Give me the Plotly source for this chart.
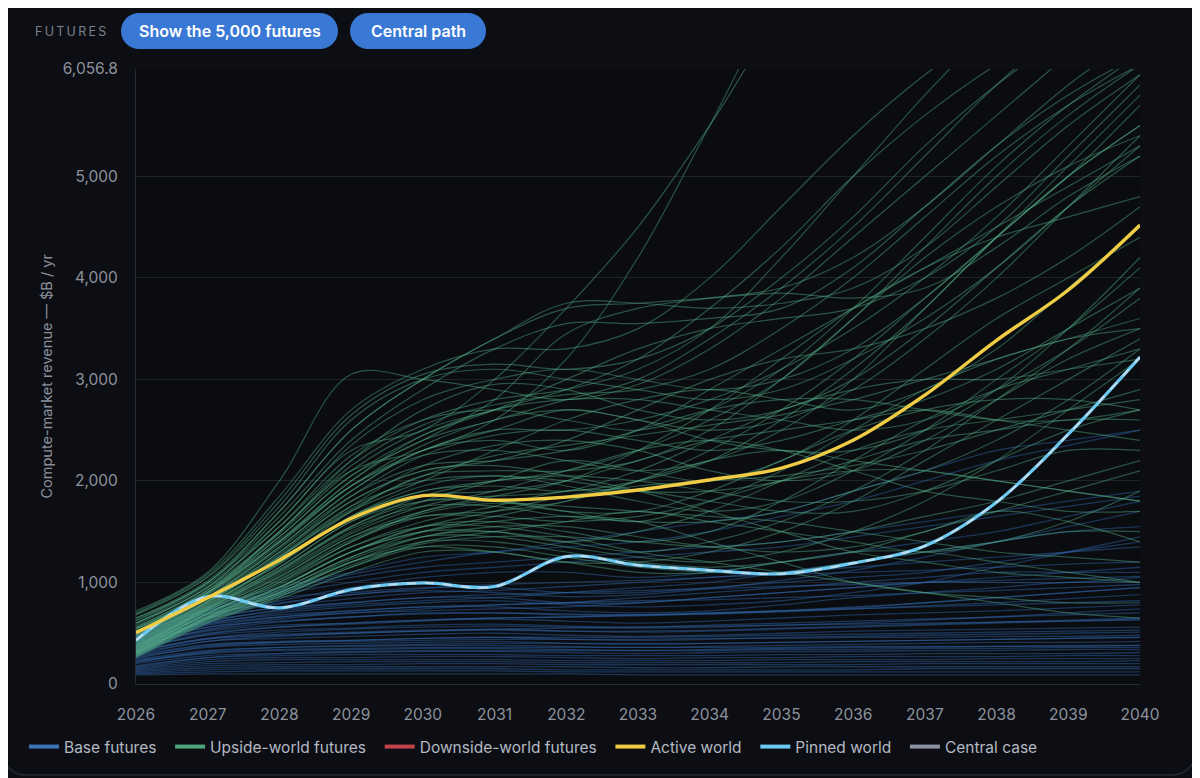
import plotly.graph_objects as go

# yearly points of every path, $B / yr
years = list(range(2026, 2041))

active_world = [505, 850, 1220, 1630, 1855, 1810, 1840, 1910, 2010, 2125, 2400, 2845, 3385, 3880, 4520]
pinned_world = [430, 860, 750, 930, 995, 960, 1255, 1170, 1120, 1085, 1190, 1360, 1790, 2460, 3220]
central_case = [430, 860, 750, 930, 995, 960, 1255, 1170, 1120, 1085, 1190, 1360, 1790, 2460, 3220]

upside_futures = [
    [720, 1100, 2000, 3050, 3000, 2900, 2800, 2950, 3300, 3800, 4400, 5000, 5600, 6200, 6800],
    [650, 1000, 1700, 2500, 3000, 3400, 3700, 3750, 3800, 3850, 3800, 3900, 4300, 4800, 5200],
    [600, 950, 1600, 2300, 2500, 3000, 3700, 4500, 5500, 6600, 7400, 8000, 8500, 9000, 9500],
    [550, 900, 1500, 2100, 2300, 2600, 3200, 4200, 5500, 6800, 7600, 8200, 8700, 9200, 9700],
    [500, 880, 1400, 2000, 2400, 2600, 2800, 3000, 3400, 3900, 4500, 5200, 5900, 6500, 7000],
    [480, 850, 1350, 1900, 2300, 2400, 2300, 2500, 2900, 3300, 3700, 4100, 4500, 4900, 5300],
    [450, 820, 1300, 1800, 2100, 2200, 2400, 2700, 3000, 3200, 3300, 3500, 3800, 4200, 4700],
    [420, 800, 1250, 1700, 2000, 2300, 2600, 2800, 2900, 2800, 2700, 2900, 3300, 3900, 4500],
    [400, 780, 1200, 1650, 1900, 2000, 2100, 2300, 2600, 3000, 3600, 4300, 5000, 5600, 6100],
    [380, 760, 1150, 1600, 1850, 1900, 2000, 2200, 2400, 2500, 2600, 2700, 2600, 2500, 2400],
    [360, 740, 1100, 1500, 1800, 2000, 2200, 2100, 2000, 2200, 2600, 3100, 3600, 4000, 4400],
    [350, 720, 1050, 1450, 1700, 1800, 1700, 1600, 1800, 2100, 2500, 2900, 3200, 3400, 3600],
    [340, 700, 1000, 1400, 1650, 1700, 1800, 2000, 2300, 2700, 3200, 3800, 4400, 5000, 5500],
    [330, 690, 980, 1350, 1600, 1750, 1900, 1900, 1800, 1700, 1700, 1900, 2200, 2500, 2700],
    [320, 680, 950, 1300, 1550, 1600, 1500, 1400, 1500, 1800, 2200, 2600, 2900, 3100, 3300],
    [310, 660, 930, 1250, 1500, 1650, 1800, 2000, 2200, 2300, 2200, 2100, 2000, 1900, 1800],
    [300, 650, 900, 1200, 1450, 1500, 1400, 1300, 1400, 1600, 1900, 2300, 2800, 3300, 3900],
    [290, 640, 880, 1150, 1400, 1500, 1600, 1700, 1600, 1500, 1400, 1300, 1400, 1600, 1900],
    [600, 980, 1550, 2200, 2600, 2800, 2900, 3100, 3500, 4200, 5000, 5800, 6500, 7000, 7500],
    [560, 920, 1450, 2050, 2450, 2700, 3000, 3300, 3500, 3600, 3700, 4000, 4500, 5200, 5900],
    [520, 900, 1400, 1950, 2300, 2500, 2700, 2600, 2500, 2600, 2900, 3400, 4000, 4700, 5400],
    [470, 840, 1300, 1850, 2250, 2450, 2500, 2400, 2300, 2400, 2600, 2800, 3100, 3500, 3900],
    [440, 810, 1250, 1750, 2150, 2350, 2400, 2300, 2100, 2000, 2100, 2400, 2800, 3200, 3500],
    [410, 790, 1200, 1700, 2050, 2100, 2100, 2200, 2500, 3000, 3600, 4200, 4700, 5100, 5400],
    [390, 770, 1180, 1650, 1950, 2050, 1950, 1800, 1700, 1800, 2100, 2500, 3000, 3500, 4100],
    [370, 750, 1130, 1550, 1800, 1850, 1900, 2100, 2400, 2700, 2900, 3000, 3000, 3100, 3200],
    [350, 730, 1080, 1480, 1750, 1900, 2100, 2300, 2400, 2300, 2100, 1900, 1800, 1700, 1700],
    [330, 700, 1020, 1400, 1700, 1850, 2000, 2300, 2700, 3200, 3700, 4100, 4400, 4600, 4800],
    [310, 670, 960, 1300, 1500, 1500, 1400, 1500, 1700, 2000, 2300, 2500, 2600, 2700, 2800],
    [300, 650, 920, 1250, 1450, 1450, 1350, 1250, 1200, 1300, 1500, 1800, 2200, 2700, 3200],
    [280, 630, 880, 1200, 1400, 1400, 1300, 1200, 1150, 1200, 1300, 1500, 1700, 1900, 2100],
    [270, 620, 860, 1150, 1350, 1350, 1250, 1150, 1100, 1100, 1200, 1300, 1400, 1500, 1500],
    [260, 600, 840, 1100, 1300, 1300, 1200, 1200, 1300, 1500, 1800, 2200, 2600, 3000, 3400],
    [700, 1080, 1850, 2700, 3100, 3300, 3300, 3500, 4000, 4700, 5400, 6000, 6500, 7000, 7500],
    [680, 1050, 1750, 2600, 3000, 3100, 3000, 2900, 2800, 2900, 3200, 3600, 4100, 4700, 5300],
    [620, 1000, 1650, 2400, 2900, 3300, 3550, 3550, 3600, 3700, 4100, 4700, 5300, 5800, 6200],
    [580, 960, 1550, 2250, 2600, 2700, 2600, 2500, 2700, 3100, 3700, 4400, 5100, 5700, 6200],
    [540, 920, 1480, 2100, 2500, 2700, 2900, 3200, 3700, 4300, 5000, 5600, 6100, 6500, 6900],
    [500, 880, 1400, 1950, 2250, 2300, 2200, 2100, 2200, 2500, 3000, 3700, 4400, 5100, 5800],
    [460, 840, 1330, 1850, 2150, 2200, 2300, 2500, 2700, 2800, 2800, 2700, 2600, 2600, 2700],
    [430, 810, 1260, 1750, 2000, 2050, 2000, 1900, 1900, 2000, 2200, 2400, 2500, 2600, 2600],
    [400, 780, 1190, 1650, 1900, 1950, 1900, 2000, 2200, 2600, 3100, 3700, 4400, 5000, 5700],
    [380, 760, 1150, 1600, 1800, 1800, 1700, 1700, 1900, 2200, 2500, 2700, 2800, 2800, 2700],
    [360, 740, 1110, 1530, 1750, 1750, 1650, 1600, 1600, 1700, 1900, 2100, 2400, 2800, 3300],
    [340, 720, 1060, 1450, 1650, 1650, 1600, 1650, 1800, 2000, 2100, 2100, 2000, 1900, 1800],
    [600, 950, 1500, 2200, 2700, 2950, 2900, 2700, 2600, 2700, 3000, 3500, 4100, 4700, 5200],
    [520, 900, 1420, 2000, 2450, 2700, 2800, 2800, 2700, 2600, 2500, 2600, 2900, 3300, 3800],
    [470, 850, 1350, 1900, 2300, 2500, 2500, 2600, 2800, 3100, 3500, 4000, 4600, 5300, 6000],
    [320, 690, 1000, 1350, 1550, 1550, 1450, 1300, 1200, 1100, 1000, 900, 800, 700, 650],
    [300, 660, 950, 1300, 1500, 1600, 1650, 1600, 1400, 1200, 1000, 900, 850, 800, 800],
    [450, 820, 1280, 1800, 2100, 2150, 2050, 1900, 1700, 1500, 1300, 1200, 1100, 1050, 1000],
    [280, 640, 900, 1200, 1350, 1300, 1200, 1100, 1100, 1200, 1300, 1300, 1200, 1100, 1000],
    [650, 1020, 1700, 2500, 3000, 3400, 3750, 3750, 3700, 3750, 3900, 4300, 4900, 5500, 6000],
    [540, 900, 1450, 2050, 2400, 2800, 3450, 3700, 3800, 3900, 4200, 4700, 5300, 5900, 6400],
    [690, 1060, 1800, 2650, 3050, 3150, 3100, 3200, 3500, 4000, 4600, 5300, 5900, 6400, 6800],
    [630, 1000, 1600, 2350, 2800, 3000, 3100, 3000, 2900, 3000, 3300, 3800, 4400, 5000, 5500],
    [560, 930, 1500, 2150, 2550, 2750, 2850, 2900, 3100, 3500, 4000, 4600, 5200, 5700, 6100],
    [490, 860, 1380, 1950, 2350, 2600, 2700, 2600, 2400, 2300, 2300, 2500, 2900, 3500, 4200],
    [420, 800, 1240, 1720, 2050, 2250, 2350, 2450, 2550, 2650, 2800, 3000, 3200, 3400, 3500],
    [370, 750, 1120, 1550, 1850, 2000, 2050, 2000, 1900, 1800, 1800, 1900, 2100, 2300, 2300],
    [330, 700, 1030, 1420, 1680, 1780, 1750, 1700, 1650, 1600, 1500, 1400, 1300, 1250, 1200],
    [310, 660, 950, 1300, 1550, 1700, 1850, 1950, 2000, 2050, 2150, 2300, 2500, 2700, 2900],
    [290, 640, 900, 1230, 1450, 1550, 1550, 1450, 1350, 1300, 1350, 1500, 1700, 1600, 1400],
    [270, 610, 860, 1170, 1380, 1450, 1450, 1400, 1350, 1400, 1500, 1650, 1800, 2000, 2200],
]

base_futures = [
    [480, 700, 850, 900, 950, 950, 900, 900, 950, 1000, 1050, 1100, 1200, 1300, 1400],
    [450, 650, 750, 800, 850, 850, 800, 800, 850, 900, 950, 1000, 1000, 1000, 1050],
    [420, 600, 680, 720, 760, 760, 720, 700, 720, 780, 850, 900, 950, 1000, 1000],
    [400, 560, 620, 660, 700, 700, 680, 680, 700, 720, 750, 800, 850, 900, 950],
    [380, 520, 580, 600, 630, 640, 620, 600, 620, 650, 680, 700, 720, 750, 780],
    [350, 480, 530, 550, 580, 590, 570, 560, 580, 600, 620, 640, 660, 680, 700],
    [330, 450, 490, 510, 530, 540, 520, 510, 520, 540, 560, 580, 600, 620, 640],
    [300, 420, 450, 470, 490, 500, 480, 470, 480, 500, 520, 530, 540, 550, 560],
    [280, 390, 420, 430, 450, 460, 440, 430, 440, 460, 470, 480, 490, 500, 510],
    [260, 360, 390, 400, 410, 420, 400, 390, 400, 410, 420, 430, 440, 450, 460],
    [240, 330, 360, 370, 380, 380, 370, 360, 370, 380, 390, 400, 410, 410, 420],
    [220, 300, 330, 340, 350, 350, 340, 330, 340, 350, 360, 360, 370, 370, 380],
    [200, 280, 300, 310, 320, 320, 310, 300, 310, 320, 320, 330, 330, 340, 340],
    [180, 260, 280, 290, 290, 290, 280, 280, 280, 290, 290, 300, 300, 300, 310],
    [160, 240, 260, 260, 270, 270, 260, 250, 260, 260, 270, 270, 270, 280, 280],
    [150, 220, 240, 240, 240, 240, 230, 230, 230, 240, 240, 240, 250, 250, 250],
    [140, 200, 210, 220, 220, 220, 210, 210, 210, 210, 220, 220, 220, 220, 230],
    [130, 180, 190, 190, 200, 200, 190, 190, 190, 190, 190, 200, 200, 200, 200],
    [120, 160, 170, 170, 170, 170, 170, 160, 160, 170, 170, 170, 170, 170, 170],
    [110, 140, 150, 150, 150, 150, 140, 140, 140, 140, 140, 150, 150, 150, 150],
    [100, 120, 130, 130, 130, 130, 120, 120, 120, 120, 120, 120, 120, 120, 120],
    [90, 100, 100, 100, 100, 100, 100, 90, 90, 90, 90, 90, 90, 90, 90],
    [500, 720, 900, 1050, 1150, 1200, 1250, 1300, 1350, 1400, 1500, 1600, 1700, 1800, 1900],
    [460, 680, 820, 950, 1050, 1100, 1100, 1050, 1100, 1200, 1300, 1400, 1500, 1650, 1800],
    [430, 620, 720, 780, 820, 850, 900, 950, 1000, 1100, 1200, 1300, 1400, 1500, 1550],
    [400, 580, 660, 700, 740, 780, 800, 820, 830, 850, 870, 900, 920, 950, 980],
    [360, 500, 560, 590, 620, 650, 660, 680, 700, 720, 740, 760, 780, 800, 820],
    [320, 440, 480, 500, 520, 540, 550, 560, 570, 580, 590, 600, 610, 620, 630],
    [270, 380, 410, 420, 430, 440, 440, 440, 450, 450, 460, 460, 470, 470, 480],
    [230, 310, 340, 350, 360, 360, 360, 360, 360, 360, 370, 370, 370, 380, 380],
    [520, 760, 950, 1100, 1250, 1300, 1400, 1500, 1600, 1700, 1900, 2100, 2300, 2400, 2500],
    [380, 540, 640, 700, 720, 740, 760, 800, 850, 900, 950, 1000, 1050, 1100, 1150],
    [470, 690, 800, 880, 920, 900, 860, 880, 940, 1020, 1120, 1250, 1400, 1550, 1700],
    [440, 640, 760, 840, 900, 920, 960, 1000, 1050, 1100, 1150, 1200, 1250, 1300, 1350],
    [410, 590, 700, 760, 800, 820, 780, 760, 780, 820, 900, 1000, 1150, 1300, 1450],
    [390, 560, 660, 720, 760, 780, 800, 850, 900, 950, 1000, 1050, 1100, 1100, 1100],
    [370, 530, 610, 660, 690, 700, 690, 680, 690, 720, 760, 800, 850, 900, 950],
    [340, 490, 560, 600, 630, 650, 660, 670, 690, 710, 740, 770, 800, 840, 880],
    [310, 450, 510, 540, 560, 570, 560, 550, 560, 580, 600, 630, 660, 700, 740],
    [290, 420, 470, 500, 520, 530, 520, 520, 530, 550, 570, 590, 610, 630, 650],
    [250, 370, 410, 430, 450, 460, 460, 460, 470, 480, 490, 500, 510, 520, 530],
    [210, 320, 360, 380, 390, 400, 400, 400, 400, 410, 420, 430, 440, 450, 460],
    [170, 260, 300, 320, 330, 330, 330, 330, 330, 340, 340, 350, 350, 360, 360],
    [500, 740, 920, 1080, 1200, 1300, 1350, 1400, 1500, 1650, 1800, 2000, 2200, 2350, 2500],
    [490, 730, 880, 1000, 1100, 1150, 1200, 1250, 1300, 1350, 1450, 1550, 1650, 1750, 1850],
    [450, 660, 790, 880, 940, 980, 1000, 1020, 1050, 1080, 1100, 1120, 1150, 1180, 1200],
    [420, 610, 730, 800, 850, 880, 900, 920, 940, 960, 980, 1000, 1020, 1040, 1060],
]

downside_futures = []  # none visible in this view

y_tickvals = [0, 1000, 2000, 3000, 4000, 5000, 6056.8]
y_ticktext = ["0", "1,000", "2,000", "3,000", "4,000", "5,000", "6,056.8"]

# page geometry, in screenshot pixels; the html body adds an 8px margin
OFF = 8
W_PX, H_PX = 1192, 770
L, R, T, B = 136, 1140, 69, 684   # plot area in screenshot pixels


def px(x):
    return (x - L) / (R - L)


def py(y):
    return (B - y) / (B - T)


def P(x, y):
    return f"{px(x):.5f},{py(y):.5f}"


def rounded_rect(x0, y0, x1, y1, r):
    k = 0.5523 * r
    return (
        f"M{P(x0 + r, y0)} L{P(x1 - r, y0)} "
        f"C{P(x1 - r + k, y0)} {P(x1, y0 + r - k)} {P(x1, y0 + r)} "
        f"L{P(x1, y1 - r)} "
        f"C{P(x1, y1 - r + k)} {P(x1 - r + k, y1)} {P(x1 - r, y1)} "
        f"L{P(x0 + r, y1)} "
        f"C{P(x0 + r - k, y1)} {P(x0, y1 - r + k)} {P(x0, y1 - r)} "
        f"L{P(x0, y0 + r)} "
        f"C{P(x0, y0 + r - k)} {P(x0 + r - k, y0)} {P(x0 + r, y0)} Z"
    )


FONT = "Inter, Noto Sans, sans-serif"
BG = "#0c0e13"

fig = go.Figure()

for path in base_futures:
    fig.add_trace(go.Scatter(x=years, y=path, mode="lines", showlegend=False, hoverinfo="skip",
                             line=dict(color="rgba(50,104,172,0.45)", width=1.3, shape="spline")))
for path in upside_futures:
    fig.add_trace(go.Scatter(x=years, y=path, mode="lines", showlegend=False, hoverinfo="skip",
                             line=dict(color="rgba(84,172,136,0.45)", width=1.2, shape="spline")))

fig.add_trace(go.Scatter(x=years, y=pinned_world, mode="lines", showlegend=False,
                         line=dict(color="#6ccaf2", width=3.2, shape="spline")))
fig.add_trace(go.Scatter(x=years, y=central_case, mode="lines", showlegend=False,
                         line=dict(color="rgba(214,222,234,0.8)", width=2, dash="dash", shape="spline")))
fig.add_trace(go.Scatter(x=years, y=active_world, mode="lines", showlegend=False,
                         line=dict(color="#f0cd45", width=3.4, shape="spline")))

# legend entries
legend_items = [
    ("Base futures", "#3d72b4"),
    ("Upside-world futures", "#4fa57c"),
    ("Downside-world futures", "#c2424b"),
    ("Active world", "#f0cd45"),
    ("Pinned world", "#6ccaf2"),
    ("Central case", "#8b93a2"),
]
for name, col in legend_items:
    fig.add_trace(go.Scatter(x=[None], y=[None], mode="lines", name=name + "\u00a0\u00a0",
                             line=dict(color=col, width=4)))

shapes = [
    dict(type="path", xref="paper", yref="paper", path=rounded_rect(3, -30, 1195, 775, 22),
         line=dict(color="#262a33", width=1.5), fillcolor="rgba(0,0,0,0)", layer="below"),
    dict(type="path", xref="paper", yref="paper", path=rounded_rect(121, 13, 338, 49, 18),
         line=dict(width=0), fillcolor="#3a78d6"),
    dict(type="path", xref="paper", yref="paper", path=rounded_rect(350, 13, 486, 49, 18),
         line=dict(width=0), fillcolor="#3a78d6"),
]

annotations = [
    dict(text="F\u2009U\u2009T\u2009U\u2009R\u2009E\u2009S", x=px(33), y=py(31),
         xref="paper", yref="paper", xanchor="left", yanchor="middle", showarrow=False,
         font=dict(family=FONT, size=12.5, color="#7b818c")),
    dict(text="Show the 5,000 futures", x=px(229.5), y=py(31),
         xref="paper", yref="paper", xanchor="center", yanchor="middle", showarrow=False,
         font=dict(family=FONT, size=16, color="#ffffff", weight=600)),
    dict(text="Central path", x=px(418), y=py(31),
         xref="paper", yref="paper", xanchor="center", yanchor="middle", showarrow=False,
         font=dict(family=FONT, size=16, color="#ffffff", weight=600)),
    dict(text="Compute-market revenue — $B / yr", x=px(46), y=0.5,
         xref="paper", yref="paper", xanchor="center", yanchor="middle", textangle=-90,
         showarrow=False, font=dict(family=FONT, size=14.5, color="#8a909b")),
]

fig.update_layout(
    width=W_PX, height=H_PX,
    margin=dict(l=L - OFF, r=W_PX - (R - OFF), t=T - OFF, b=H_PX - (B - OFF)),
    paper_bgcolor=BG, plot_bgcolor="#0a0c10",
    font=dict(family=FONT, color="#8d939e"),
    shapes=shapes, annotations=annotations,
    hovermode=False,
    legend=dict(orientation="h", x=px(24), y=py(747),
                xanchor="left", yanchor="middle", bgcolor="rgba(0,0,0,0)",
                font=dict(family=FONT, size=15.5, color="#b3b9c3"), itemwidth=30),
)
fig.update_xaxes(range=[2026, 2040], tickvals=years, ticktext=[str(y) for y in years],
                 showgrid=False, zeroline=False, showline=True, linecolor="#262a33", linewidth=1,
                 ticks="", ticklabelstandoff=16, tickfont=dict(family=FONT, size=15.5, color="#8d939e"))
fig.update_yaxes(range=[0, 6056.8], tickvals=y_tickvals, ticktext=y_ticktext,
                 showgrid=True, gridcolor="#1e2229", gridwidth=1, zeroline=False,
                 showline=True, linecolor="#262a33", linewidth=1,
                 ticks="", ticklabelstandoff=14, tickfont=dict(family=FONT, size=15.5, color="#8d939e"))

fig.write_html("out.html", config={"displayModeBar": False})
